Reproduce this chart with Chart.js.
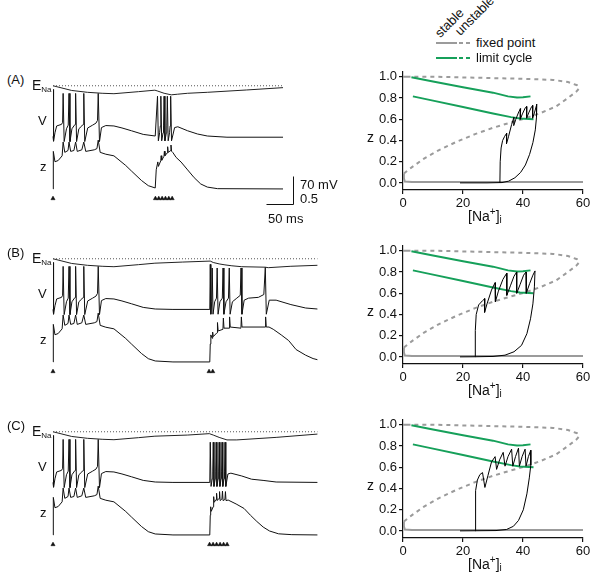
<!DOCTYPE html>
<html>
<head>
<meta charset="utf-8">
<script src="https://cdn.jsdelivr.net/npm/chart.js@4.4.0/dist/chart.umd.min.js"></script>
<style>
body { margin: 0; background: #fff; }
#fig { position: relative; width: 600px; height: 582px; font-family: "Liberation Sans", Arial, sans-serif; color: #111; overflow: hidden; }
#fig canvas, #fig .lab, #fig svg { position: absolute; }
.lab { font-size: 13px; line-height: 16px; white-space: nowrap; }
.lab sub { font-size: 8px; vertical-align: -2px; }
.big { font-size: 14px; }
.rot { transform-origin: 0 100%; transform: rotate(-45deg); }
</style>
</head>
<body>
<div id="fig">
  <canvas id="trA" width="277" height="145" style="left:48px;top:70px"></canvas>
  <canvas id="trB" width="277" height="145" style="left:48px;top:243px"></canvas>
  <canvas id="trC" width="277" height="145" style="left:48px;top:416px"></canvas>
  <canvas id="ppA" width="260" height="170" style="left:340px;top:62px"></canvas>
  <canvas id="ppB" width="260" height="170" style="left:340px;top:236px"></canvas>
  <canvas id="ppC" width="260" height="170" style="left:340px;top:410px"></canvas>

  <!-- left labels -->
  <div class="lab" style="left:7px;top:72px">(A)</div>
  <div class="lab big" style="left:32px;top:77px">E<sub>Na</sub></div>
  <div class="lab" style="left:38px;top:113px">V</div>
  <div class="lab" style="left:40px;top:159px">z</div>

  <div class="lab" style="left:7px;top:245px">(B)</div>
  <div class="lab big" style="left:32px;top:250px">E<sub>Na</sub></div>
  <div class="lab" style="left:38px;top:286px">V</div>
  <div class="lab" style="left:40px;top:332px">z</div>

  <div class="lab" style="left:7px;top:418px">(C)</div>
  <div class="lab big" style="left:32px;top:423px">E<sub>Na</sub></div>
  <div class="lab" style="left:38px;top:459px">V</div>
  <div class="lab" style="left:40px;top:505px">z</div>

  <!-- scale bar labels -->
  <div class="lab" style="left:300px;top:177px">70 mV</div>
  <div class="lab" style="left:300px;top:191px">0.5</div>
  <div class="lab" style="left:268px;top:211px">50 ms</div>

  <!-- right labels -->
  <div class="lab big" style="left:367px;top:129px">z</div>
  <div class="lab big" style="left:468px;top:204px">[Na<sup style="font-size:10px">+</sup>]<sub style="font-size:10px">i</sub></div>
  <div class="lab big" style="left:367px;top:303px">z</div>
  <div class="lab big" style="left:468px;top:378px">[Na<sup style="font-size:10px">+</sup>]<sub style="font-size:10px">i</sub></div>
  <div class="lab big" style="left:367px;top:477px">z</div>
  <div class="lab big" style="left:468px;top:552px">[Na<sup style="font-size:10px">+</sup>]<sub style="font-size:10px">i</sub></div>

  <!-- legend -->
  <div class="lab rot" style="left:443px;top:25px">stable</div>
  <div class="lab rot" style="left:463px;top:23px">unstable</div>
  <svg width="40" height="24" style="left:435px;top:36px">
    <line x1="1" y1="7" x2="22" y2="7" stroke="#9b9b9b" stroke-width="2"/>
    <line x1="24" y1="7" x2="38" y2="7" stroke="#9b9b9b" stroke-width="2" stroke-dasharray="4 3"/>
    <line x1="1" y1="22" x2="22" y2="22" stroke="#16a05a" stroke-width="2"/>
    <line x1="24" y1="22" x2="38" y2="22" stroke="#16a05a" stroke-width="2" stroke-dasharray="4 3"/>
  </svg>
  <div class="lab" style="left:476px;top:35px">fixed point</div>
  <div class="lab" style="left:476px;top:50px">limit cycle</div>
</div>

<script>
// ---- time traces: [t (ms), value] ----
const ENA_REF = 61;

const vFirst = [[0,-65],[0.6,52],[1.5,-77],[3.7,-56],[6.9,-39],[16.1,-35],[18.1,-30],[19.1,42],[21,-78],
  [25.4,-46],[28.7,-37],[30.2,42],[32,-78],[35.7,-46],[39.4,-39],[41.7,-35],[42.6,42],[44.4,-78],
  [48.7,-46],[54.3,-39],[56.9,-35],[58,42],[59.8,-78],[65.4,-44],[74.6,-37],[80.9,-32],[83.9,-25],
  [85.2,42],[87.6,-78],[91.3,-43],[99.5,-38],[114.8,-39],[130,-44],[148,-51],[170,-60],[192.6,-64]];
const vTailA = [[193.3,-64],[196.9,35],[198.5,-76],[200.9,-56],[202.2,-39],[203.2,35],[204.8,-76],
  [207.4,-56],[208.3,-39],[209.3,35],[210.9,-76],[213.5,-56],[214.4,-39],[215.4,35],[217,-76],
  [219.6,-56],[220.7,-39],[221.7,35],[223.3,-76],[229.1,-43],[235.2,-41],[253.7,-51],[272.2,-59],
  [290.8,-64],[327.8,-67],[433.4,-67]];
const vTailB = [[226,-65],[295.4,-65],[296.3,47],[297.4,-77],[299.1,-46],[300,38],[301.5,-77],
  [304.6,-46],[308,-37],[309.3,38],[311,-77],[314.5,-46],[319,-37],[320.4,38],[322,-77],[326,-46],
  [330.6,-37],[332.1,38],[333.7,-77],[338,-46],[346.3,-37],[352.8,-30],[354.3,38],[356,-77],
  [360.2,-42],[368.5,-37],[387,-35],[397.2,-28],[400,40],[401.9,-77],[407.4,-42],[420.4,-42],
  [448.2,-53],[476,-61.5],[498.2,-64]];
const vTailC = [[226,-65],[295.4,-65],[296.3,35],[297.8,-75],[300,-56],[301,-39],[301.9,35],
  [303.3,-75],[305.6,-56],[306.5,-39],[307.4,35],[308.9,-75],[311.1,-56],[312.1,-39],[313,35],
  [314.5,-75],[316.7,-56],[317.6,-39],[318.5,35],[320,-75],[322.2,-56],[323.2,-39],[324.1,35],
  [325.6,-75],[329.6,-44],[335.2,-42],[355.6,-49],[374,-57],[395.8,-60],[420.4,-64],[498.2,-65]];

const zFirst = [[0,0],[0.6,0.667],[3.7,0.483],[9.8,0.505],[17.2,0.588],[19.1,0.833],[22.2,0.65],
  [28.3,0.683],[30.2,0.833],[33.3,0.667],[39.4,0.683],[42.6,0.833],[45.7,0.667],[54.3,0.695],
  [58,0.833],[61.7,0.667],[77.8,0.695],[82.8,0.717],[85.2,0.867],[88.9,0.65],[99.5,0.617],
  [114.8,0.588],[137,0.417],[148,0.317],[166.7,0.15],[179.6,0.058],[192.6,0.017]];
const zTailA = [[193.3,0.017],[194.5,0.34],[197.5,0.48],[198.6,0.4],[203,0.5],[203.8,0.59],
  [204.9,0.51],[209.1,0.58],[209.9,0.67],[211,0.59],[215.2,0.64],[216,0.75],[217.1,0.65],
  [221.5,0.68],[222.3,0.78],[223.4,0.67],[226,0.645],[232,0.56],[241.3,0.478],[253.7,0.338],
  [266,0.2],[278.4,0.088],[290.8,0.033],[310,0.005],[433.4,0]];
const zTailB = [[226,0],[295.4,0],[296.3,0.32],[297.4,0.48],[299,0.44],[300,0.42],[300.8,0.53],
  [302,0.45],[309.1,0.52],[309.9,0.7],[311.2,0.55],[320.2,0.58],[321,0.78],[322.2,0.6],[331.9,0.6],
  [332.7,0.8],[333.9,0.62],[354.1,0.6],[354.9,0.8],[356.1,0.62],[399.8,0.62],[400.6,0.8],
  [401.8,0.62],[407,0.62],[415,0.58],[430,0.48],[444,0.38],[458,0.22],[476,0.12],[490,0.06],
  [498.2,0.04]];
const zTailC = [[226,0],[295.4,0],[296.3,0.35],[297.1,0.5],[298.2,0.42],[301.7,0.5],[302.7,0.68],
  [303.8,0.58],[307.2,0.63],[308.2,0.74],[309.3,0.61],[312.8,0.65],[313.8,0.77],[314.9,0.61],
  [318.3,0.64],[319.3,0.78],[320.4,0.61],[323.9,0.63],[324.9,0.77],[326,0.61],[330,0.62],
  [345,0.55],[360,0.47],[372,0.35],[384,0.24],[396,0.14],[408,0.07],[425,0.02],[450,0.005],
  [498.2,0]];

const enaFirst = [[0,61],[35.2,49.3],[64.8,44.7],[92.6,42.3],[114.8,41.2],[161,46.3],[192,50]];
const enaTailA = [[196.3,48.2],[209.3,42.3],[222.8,38.4],[235,40],[253.7,42.3],[290.8,44.7],
  [364.8,50.5],[433.4,56.3]];
const enaTailB = [[244.5,52.8],[296.3,55.2],[301.9,51.7],[313,48.2],[324,45.8],[337,43.5],
  [355.6,41.2],[400,40],[405.6,38.8],[448.2,42.3],[498.2,44.7]];
const enaTailC = [[253.7,52.8],[294.5,56.3],[301.9,52.8],[313,47],[327.8,40.7],[346.3,40.7],
  [420.4,47],[498.2,55.2]];

const stimA = [0,193,199.3,205.6,211.9,218.2,224.5];
const stimB = [0,294,301];
const stimC = [0,295,301.6,308.2,314.8,321.4,328];

const endA = 433.4, endB = 498.2, endC = 498.2;

// ---- phase plane: [Na (mM), z] ----
const fpStable = [[60,0.01],[30,0.01],[3,0.011],[0.6,0.015],[0.25,0.05],[0.3,0.09]];
const fpStableTop = [[0,1.0],[2.5,1.0]];
const fpUnstable = [[0.3,0.09],[3,0.15],[7,0.23],[12,0.31],[18,0.39],[24,0.46],[30,0.52],[36,0.57],
  [41,0.61],[46,0.66],[51,0.72],[55,0.8],[57.8,0.86],[58.7,0.89],[58,0.92],[55,0.95],[50,0.97],
  [40,0.98],[25,0.99],[10,1.0],[2.5,1.0]];
const lcUpper = [[2.8,0.995],[10,0.955],[20,0.9],[30,0.85],[35,0.815],[38,0.805],[40,0.806],[42.5,0.815]];
const lcLower = [[3.3,0.815],[10,0.775],[20,0.715],[30,0.655],[36,0.62],[39,0.607],[42,0.602],[43.5,0.6]];

const trajA = [[32.3,0.003],[32.4,0.2],[32.7,0.33],[33.2,0.4],[33.9,0.44],[34.6,0.47],[34.5,0.37],
  [35.2,0.44],[36.2,0.55],[37,0.62],[36.9,0.54],[37.6,0.6],[38.6,0.67],[39.2,0.7],[39.1,0.6],
  [39.8,0.65],[40.8,0.71],[41.3,0.72],[41.2,0.61],[41.9,0.66],[42.9,0.72],[43.3,0.73],[43.2,0.61],
  [43.8,0.66],[44.6,0.74],[44.5,0.62],[44.1,0.5],[43.3,0.38],[42.2,0.27],[40.8,0.17],[39.2,0.1],
  [37.3,0.05],[35.2,0.018],[33,0.005],[28,0.002],[19,0.002]];
const trajB = [[24,0.003],[24.1,0.25],[24.4,0.4],[25.2,0.49],[26.5,0.53],[27.3,0.55],[27.2,0.42],
  [28,0.5],[29.5,0.63],[30.7,0.7],[30.8,0.52],[31.8,0.62],[33.3,0.73],[34.6,0.79],[34.6,0.58],
  [35.8,0.67],[37,0.76],[37.9,0.8],[37.9,0.6],[39,0.68],[40.2,0.77],[41,0.8],[41.1,0.6],[42.2,0.69],
  [43.3,0.77],[44,0.81],[43.8,0.66],[43.3,0.5],[42.5,0.36],[41.3,0.22],[39.5,0.11],[37,0.05],
  [34,0.018],[30,0.006],[24,0.003],[19,0.002]];
const trajC = [[24,0.003],[24.1,0.2],[24.3,0.38],[24.8,0.48],[25.6,0.53],[26.5,0.55],[27.3,0.41],
  [28.3,0.52],[29.5,0.65],[30.7,0.7],[31.2,0.58],[32.2,0.67],[33.4,0.74],[34,0.61],[35,0.7],
  [36.2,0.77],[36.6,0.61],[37.5,0.7],[38.5,0.78],[38.8,0.61],[39.7,0.7],[40.7,0.77],[41,0.61],
  [41.8,0.7],[42.6,0.76],[42.6,0.62],[42.1,0.5],[41.3,0.35],[40.1,0.2],[38.5,0.1],[36.8,0.045],
  [34.5,0.015],[31,0.005],[24,0.003],[19,0.002]];

const zTicks = [0, 0.2, 0.4, 0.6, 0.8, 1.0];
const naTicks = [0, 20, 40, 60];

// scale bar (panel A): 70 mV / 0.5, 50 ms
const BAR_T = 452, BAR_V = -233, BAR_MV = 70, BAR_MS = 50;
const STIM_Z = -0.17;

const FONT = 'Liberation Sans';
const pts = a => a.map(p => ({ x: p[0], y: p[1] }));

const scaleBar = {
  id: 'scaleBar',
  afterDatasetsDraw(chart) {
    const { ctx, scales } = chart;
    const x0 = Math.round(scales.x.getPixelForValue(BAR_T - BAR_MS)) + 0.5;
    const x1 = Math.round(scales.x.getPixelForValue(BAR_T)) + 0.5;
    const y0 = Math.round(scales.v.getPixelForValue(BAR_V)) + 0.5;
    const y1 = Math.round(scales.v.getPixelForValue(BAR_V + BAR_MV)) + 0.5;
    ctx.save();
    ctx.strokeStyle = '#111';
    ctx.lineWidth = 1;
    ctx.beginPath();
    ctx.moveTo(x0, y0);
    ctx.lineTo(x1, y0);
    ctx.lineTo(x1, y1);
    ctx.stroke();
    ctx.restore();
  }
};

function traceChart(id, v, z, ena, stim, tEnd, withBar) {
  new Chart(document.getElementById(id), {
    type: 'scatter',
    data: {
      datasets: [
        { data: pts([[0, ENA_REF], [tEnd, ENA_REF]]), yAxisID: 'v', borderColor: '#555', borderWidth: 1, borderDash: [1, 2] },
        { data: pts(ena), yAxisID: 'v', borderColor: '#222', borderWidth: 1 },
        { data: pts(v), yAxisID: 'v', borderColor: '#111', borderWidth: 1 },
        { data: pts(z), yAxisID: 'z', borderColor: '#111', borderWidth: 1 },
        { data: stim.map(t => ({ x: t, y: STIM_Z })), yAxisID: 'z', showLine: false,
          pointStyle: 'triangle', pointRadius: 2.4, backgroundColor: '#111', borderColor: '#111', borderWidth: 0.5 }
      ]
    },
    options: {
      animation: false, responsive: false, events: [],
      showLine: true,
      datasets: { scatter: { clip: false } },
      elements: { point: { radius: 0 }, line: { tension: 0 } },
      layout: { padding: { left: 5 } },
      plugins: { legend: { display: false }, tooltip: { enabled: false } },
      scales: {
        x: { type: 'linear', display: false, min: 0, max: 504 },
        v: { type: 'linear', display: false, min: -249.3, max: 89 },
        z: { type: 'linear', display: false, min: -0.383, max: 2.033 }
      }
    },
    plugins: withBar ? [scaleBar] : []
  });
}

function axisStyle() {
  return {
    grid: { display: true, drawOnChartArea: false, drawTicks: true, tickLength: 4, color: '#111', lineWidth: 1.2 },
    border: { display: true, color: '#111', width: 1.2 },
    ticks: { font: { family: FONT, size: 13 }, color: '#111', padding: 2, maxRotation: 0 }
  };
}

function phaseChart(id, traj) {
  const xs = axisStyle(), ys = axisStyle();
  new Chart(document.getElementById(id), {
    type: 'scatter',
    data: {
      datasets: [
        { data: pts(traj), borderColor: '#000', borderWidth: 1, order: 0 },
        { data: pts(lcUpper), borderColor: '#16a05a', borderWidth: 2, order: 1 },
        { data: pts(lcLower), borderColor: '#16a05a', borderWidth: 2, order: 1 },
        { data: pts(fpUnstable), borderColor: '#9b9b9b', borderWidth: 2, borderDash: [4, 4], order: 2 },
        { data: pts(fpStable), borderColor: '#9b9b9b', borderWidth: 2, order: 2 },
        { data: pts(fpStableTop), borderColor: '#9b9b9b', borderWidth: 2, order: 2 }
      ]
    },
    options: {
      animation: false, responsive: false, events: [],
      showLine: true,
      elements: { point: { radius: 0 }, line: { tension: 0 } },
      layout: { padding: { top: 8, right: 17, left: 0, bottom: 0 } },
      plugins: { legend: { display: false }, tooltip: { enabled: false } },
      scales: {
        x: Object.assign(xs, {
          type: 'linear', min: 0, max: 60,
          afterBuildTicks: s => { s.ticks = naTicks.map(v => ({ value: v })); },
          afterFit: s => { s.height = 42; }
        }),
        y: Object.assign(ys, {
          type: 'linear', min: -0.065, max: 1.046,
          afterBuildTicks: s => { s.ticks = zTicks.map(v => ({ value: v })); },
          afterFit: s => { s.width = 63; }
        })
      }
    }
  });
  const c = Chart.getChart(id);
  c.options.scales.y.ticks.callback = v => Number(v).toFixed(1);
  c.update();
}

traceChart('trA', vFirst.concat(vTailA), zFirst.concat(zTailA), enaFirst.concat(enaTailA), stimA, endA, true);
traceChart('trB', vFirst.concat(vTailB), zFirst.concat(zTailB), enaFirst.concat(enaTailB), stimB, endB, false);
traceChart('trC', vFirst.concat(vTailC), zFirst.concat(zTailC), enaFirst.concat(enaTailC), stimC, endC, false);

phaseChart('ppA', trajA);
phaseChart('ppB', trajB);
phaseChart('ppC', trajC);
</script>
</body>
</html>
